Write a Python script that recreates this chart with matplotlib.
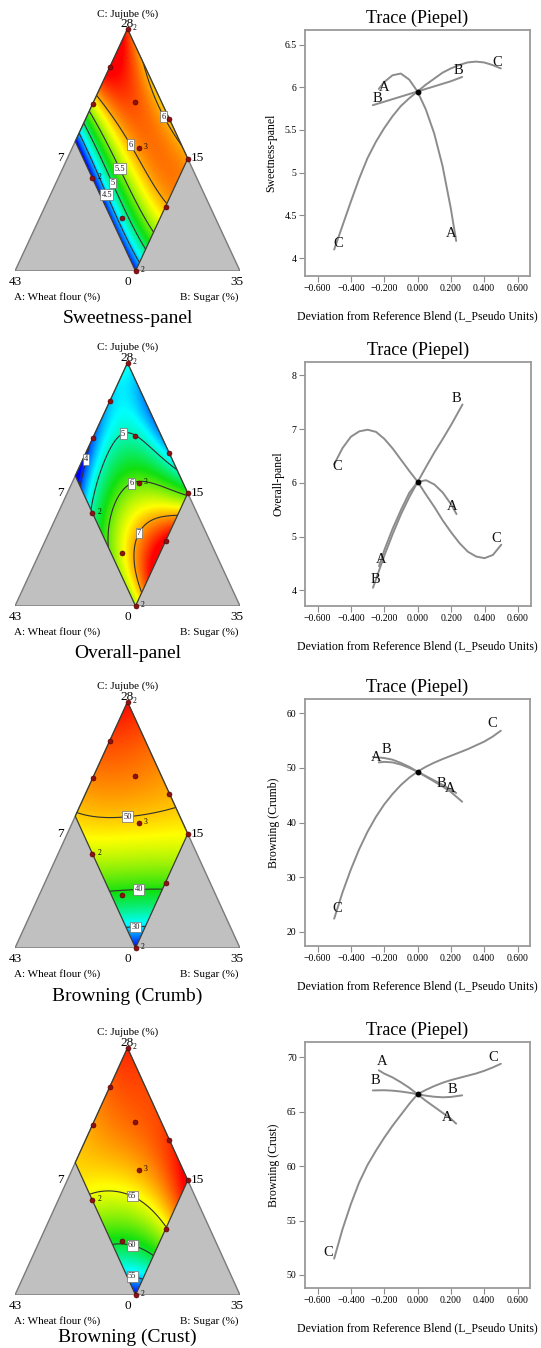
import numpy as np
import matplotlib
matplotlib.use("Agg")
import matplotlib.pyplot as plt
from matplotlib.colors import LinearSegmentedColormap
from matplotlib.patches import Polygon

plt.rcParams['font.family'] = ['Liberation Serif', 'DejaVu Serif']

# ---------------------------------------------------------------- data
# Mixture (total 50): A wheat flour 15-28, B sugar 7-22, C jujube 0-28.
# Everything below is in L-pseudo fractions (a, b, c).
A_MAX = 13 / 28
B_MAX = 15 / 28
REF = np.array([13 / 56, 15 / 56, 0.5])          # reference blend (centroid)

design_pts = [(0, 0, 1), (0.157, 0, 0.843), (0.31, 0, 0.69), (0.117, 0.183, 0.70),
              (0, 0.372, 0.628), (0.197, 0.296, 0.507), (0, 0.536, 0.464),
              (0.464, 0.152, 0.384), (0.198, 0.536, 0.266), (0.417, 0.366, 0.217),
              (0.464, 0.536, 0)]
design_reps = {0: '2', 5: '3', 7: '2', 10: '2'}

titles = ['Sweetness-panel', 'Overall-panel', 'Browning (Crumb)', 'Browning (Crust)']

DEV_A = [-0.232, -0.2, -0.15, -0.1, -0.05, 0, 0.05, 0.1, 0.15, 0.2, 0.232]
DEV_B = [-0.268, -0.2, -0.15, -0.1, -0.05, 0, 0.05, 0.1, 0.15, 0.2, 0.268]
DEV_C = [-0.5, -0.45, -0.4, -0.35, -0.3, -0.25, -0.2, -0.15, -0.1, -0.05, 0,
         0.05, 0.1, 0.15, 0.2, 0.25, 0.3, 0.35, 0.4, 0.45, 0.5]

# Sweetness-panel
sweet_A = [5.98, 6.06, 6.14, 6.16, 6.09, 5.95, 5.74, 5.46, 5.08, 4.58, 4.20]
sweet_B = [5.79, 5.83, 5.86, 5.89, 5.92, 5.95, 5.98, 6.01, 6.04, 6.07, 6.12]
sweet_C = [4.10, 4.38, 4.66, 4.93, 5.17, 5.36, 5.52, 5.66, 5.78, 5.87, 5.95,
           6.03, 6.10, 6.17, 6.22, 6.26, 6.29, 6.30, 6.29, 6.26, 6.22]
sweet_contour_pts = [(0.424, 0, 0.576, 4.5), (0.426, 0.256, 0.318, 4.5), (0.425, 0.537, 0.038, 4.5),
                     (0.38, 0, 0.62, 5), (0.3715, 0.2595, 0.369, 5), (0.375, 0.531, 0.094, 5),
                     (0.335, 0, 0.665, 5.5), (0.307, 0.264, 0.4285, 5.5), (0.315, 0.529, 0.156, 5.5),
                     (0.293, 0, 0.707, 6), (0.209, 0.261, 0.53, 6), (0.18, 0.536, 0.284, 6),
                     (0.002, 0.202, 0.796, 6), (0.016, 0.277, 0.707, 6), (0.019, 0.343, 0.638, 6),
                     (0.018, 0.53, 0.452, 6)]
sweet_levels = [4.5, 5, 5.5, 6]

# Overall-panel
overall_A = [4.45, 4.75, 5.15, 5.50, 5.82, 6.02, 6.05, 5.97, 5.82, 5.60, 5.42]
overall_B = [4.05, 4.65, 5.05, 5.42, 5.74, 6.02, 6.30, 6.57, 6.82, 7.08, 7.46]
overall_C = [6.35, 6.65, 6.86, 6.96, 6.99, 6.95, 6.82, 6.64, 6.43, 6.22, 6.02,
             5.78, 5.55, 5.30, 5.08, 4.88, 4.72, 4.63, 4.60, 4.66, 4.85]
overall_contour_pts = [(0.387, 0.009, 0.604, 4),
                       (0.465, 0.147, 0.388, 5), (0.349, 0.105, 0.546, 5), (0.243, 0.087, 0.67, 5),
                       (0.1645, 0.1225, 0.713, 5), (0.117, 0.183, 0.70, 5), (0.058, 0.2585, 0.6835, 5),
                       (0.019, 0.367, 0.614, 5), (0.0045, 0.4565, 0.539, 5),
                       (0.23, 0.2515, 0.5185, 6), (0.11, 0.399, 0.491, 6), (0.3095, 0.2135, 0.477, 6),
                       (0.3805, 0.2245, 0.395, 6), (0.463, 0.293, 0.244, 6), (0.0, 0.536, 0.464, 6),
                       (0.4, 0.527, 0.073, 7), (0.3675, 0.4435, 0.189, 7), (0.305, 0.392, 0.303, 7),
                       (0.253, 0.393, 0.354, 7), (0.172, 0.4605, 0.3675, 7), (0.0975, 0.535, 0.3675, 7)]
overall_levels = [4, 5, 6, 7]

# Browning (Crumb)
crumb_A = [51.0, 51.1, 51.0, 50.6, 50.0, 49.3, 48.5, 47.7, 46.9, 46.0, 45.4]
crumb_B = [52.0, 51.8, 51.5, 50.9, 50.2, 49.3, 48.4, 47.5, 46.6, 45.6, 43.8]
crumb_C = [22.4, 27.2, 31.4, 35.1, 38.3, 41.0, 43.3, 45.2, 46.85, 48.2, 49.3,
           50.2, 50.95, 51.6, 52.2, 52.8, 53.4, 54.1, 54.8, 55.7, 56.8]
crumb_contour_pts = [(0.449, 0, 0.551, 50), (0.355, 0.11, 0.535, 50), (0.24, 0.232, 0.528, 50),
                     (0.107, 0.337, 0.556, 50), (0.005, 0.412, 0.583, 50),
                     (0.467, 0.296, 0.237, 40), (0.32, 0.416, 0.264, 40), (0.219, 0.537, 0.244, 40),
                     (0.466, 0.453, 0.081, 30), (0.415, 0.481, 0.104, 30), (0.38, 0.5355, 0.085, 30)]
crumb_levels = [30, 40, 50]

# Browning (Crust)
crust_A = [68.8, 68.5, 68.15, 67.7, 67.2, 66.6, 66.0, 65.45, 64.9, 64.35, 63.9]
crust_B = [66.95, 66.97, 66.93, 66.85, 66.74, 66.6, 66.47, 66.37, 66.32, 66.35, 66.5]
crust_C = [51.5, 54.2, 56.5, 58.5, 60.1, 61.4, 62.6, 63.7, 64.7, 65.7, 66.6,
           67.0, 67.35, 67.65, 67.9, 68.1, 68.3, 68.5, 68.75, 69.05, 69.4]
crust_contour_pts = [(0.46, 0.126, 0.414, 65), (0.398, 0.184, 0.418, 65), (0.275, 0.321, 0.404, 65),
                     (0.2215, 0.4215, 0.357, 65), (0.19, 0.53, 0.28, 65),
                     (0.462, 0.336, 0.202, 60), (0.37, 0.417, 0.213, 60), (0.315, 0.53, 0.155, 60),
                     (0.459, 0.467, 0.074, 55), (0.431, 0.477, 0.092, 55), (0.40, 0.526, 0.074, 55)]
crust_levels = [55, 60, 65]

# contour-label places (b, c)
sweet_clabels = [(0.256, 0.318), (0.2595, 0.369), (0.264, 0.4285), (0.261, 0.53), (0.343, 0.6376)]
overall_clabels = [(0.009, 0.604), (0.1225, 0.713), (0.2515, 0.5185), (0.392, 0.303)]
crumb_clabels = [(0.232, 0.537), (0.416, 0.267), (0.481, 0.106)]
crust_clabels = [(0.321, 0.404), (0.417, 0.213), (0.477, 0.092)]

# trace letters (text, deviation, response)
sweet_tlabels = [('A', -0.202, 6.00), ('B', -0.242, 5.87), ('B', 0.244, 6.20),
                 ('C', 0.48, 6.29), ('A', 0.204, 4.29), ('C', -0.476, 4.175)]
overall_tlabels = [('B', 0.234, 7.58), ('C', -0.48, 6.31), ('A', 0.204, 5.565),
                   ('C', 0.47, 4.975), ('A', -0.216, 4.57), ('B', -0.256, 4.20)]
crumb_tlabels = [('A', -0.246, 51.94), ('B', -0.186, 53.28), ('C', 0.448, 58.17),
                 ('B', 0.144, 47.18), ('A', 0.198, 46.26), ('C', -0.48, 24.27)]
crust_tlabels = [('A', -0.21, 69.6), ('B', -0.25, 67.83), ('C', 0.454, 69.97),
                 ('B', 0.21, 67.06), ('A', 0.18, 64.49), ('C', -0.536, 52.05)]

trace_ylabels = ['Sweetness-panel', 'Overall-panel', 'Browning (Crumb)', 'Browning (Crust)']
trace_yticks = [[4, 4.5, 5, 5.5, 6, 6.5], [4, 5, 6, 7, 8], [20, 30, 40, 50, 60], [50, 55, 60, 65, 70]]
trace_ylims = [(3.79, 6.67), (3.71, 8.25), (17.4, 62.6), (48.8, 71.4)]
x_ticks = [-0.6, -0.4, -0.2, 0.0, 0.2, 0.4, 0.6]

# ---------------------------------------------------------------- layout
W, H = 541, 1348
fig = plt.figure(figsize=(W / 100, H / 100), dpi=100)
TERN_BOX = [(15, 29, 240, 271), (15, 363, 240, 606), (15, 702, 240, 948), (15, 1048, 240, 1295)]
TRACE_BOX = [(305, 30, 530, 276), (305, 362, 530.5, 606), (305, 699, 530, 946), (305, 1042, 530, 1288)]
TITLE_V = [-0.195, -0.195, -0.195, -0.17]


def add_ax(box):
    x0, y0, x1, y1 = box
    return fig.add_axes([x0 / W, 1 - y1 / H, (x1 - x0) / W, (y1 - y0) / H])


cmap = LinearSegmentedColormap.from_list(
    'de', [(0, '#0000ff'), (0.25, '#00ffff'), (0.5, '#10e010'), (0.75, '#ffff00'), (1, '#ff0000')])


def piepel(i, d):
    d = np.asarray(d, float)[:, None]
    x = REF[None, :] * (1 - d / (1 - REF[i]))
    x[:, i] = REF[i] + d[:, 0]
    return x


def terms(a, b, c):
    return np.stack([a, b, c, a * b, a * c, b * c, a * b * c,
                     a * b * (a - b), a * c * (a - c), b * c * (b - c)], axis=-1)


def fit(contour_pts, traces):
    """Scheffe cubic mixture model fitted to the read contour points and trace curves."""
    P = [np.array(contour_pts)[:, :3]]
    y = [np.array(contour_pts)[:, 3]]
    for i, (dev, val) in enumerate(traces):
        P.append(piepel(i, dev))
        y.append(np.asarray(val, float))
    P = np.vstack(P)
    y = np.concatenate(y)
    X = terms(P[:, 0], P[:, 1], P[:, 2])
    coef = np.linalg.solve(X.T @ X + 1e-5 * np.eye(X.shape[1]), X.T @ y)
    return coef


def to_uv(b, c):
    return b + np.asarray(c) / 2, c


def ternary(ax, coef, levels, clabels, title, title_v, data_lim):
    ax.set_xlim(0, 1)
    ax.set_ylim(0, 1)
    ax.axis('off')
    ax.add_patch(Polygon([(0, 0), (1, 0), (0.5, 1)], closed=True, fc='#c0c0c0',
                         ec='#7a7a7a', lw=1.0, zorder=1))
    dia = [(0.5, 1), ((1 - A_MAX) / 2, 1 - A_MAX), (B_MAX, 0), (B_MAX + (1 - B_MAX) / 2, 1 - B_MAX)]
    clip = Polygon(dia, closed=True, fc='none', ec='#3c3c30', lw=0.9, zorder=4)
    ax.add_patch(clip)
    n = 400
    U, V = np.meshgrid(np.linspace(0, 1, n), np.linspace(0, 1, n))
    C = V
    B = U - V / 2
    A = 1 - B - C
    Z = terms(A, B, C) @ coef
    inside = (A >= -1e-9) & (B >= -1e-9) & (A <= A_MAX + 1e-9) & (B <= B_MAX + 1e-9)
    vmin = 0.5 * (Z[inside].min() + data_lim[0])
    vmax = 0.5 * (Z[inside].max() + data_lim[1])
    im = ax.imshow(Z, extent=(0, 1, 0, 1), origin='lower', cmap=cmap, vmin=vmin, vmax=vmax,
                   aspect='auto', interpolation='bilinear', zorder=2)
    im.set_clip_path(clip)
    cs = ax.contour(U, V, Z, levels=levels, colors='#303030', linewidths=0.8, zorder=3)
    cs.set_clip_path(clip)
    man = [to_uv(b, c) for b, c in clabels]
    txts = ax.clabel(cs, levels=levels, manual=man, inline=False, fmt=lambda v: f'{v:g}',
                     fontsize=6, colors='#202020')
    for t in txts:
        t.set_rotation(0)
        t.set_zorder(5)
        t.set_bbox(dict(boxstyle='square,pad=0.15', fc='white', ec='#707070', lw=0.5))
    # design points
    pts = np.array(design_pts)
    u, v = to_uv(pts[:, 1], pts[:, 2])
    ax.scatter(u, v, s=13, c='#8b1212', edgecolors='#500000', linewidths=0.4, zorder=6, clip_on=False)
    for k, lab in design_reps.items():
        ax.text(u[k] + 0.022, v[k] + 0.004, lab, fontsize=5.5, va='center', ha='left', zorder=7)
    # axis texts
    ax.text(0.5, 1.063, 'C: Jujube (%)', ha='center', va='center', fontsize=8)
    ax.text(0.5, 1.022, '28', ha='center', va='center', fontsize=9.5)
    ax.text(0.2, 0.465, '7', ha='center', va='center', fontsize=9.5)
    ax.text(0.81, 0.465, '15', ha='center', va='center', fontsize=9.5)
    ax.text(0.0, -0.045, '43', ha='center', va='center', fontsize=9.5)
    ax.text(0.5, -0.045, '0', ha='center', va='center', fontsize=9.5)
    ax.text(0.985, -0.045, '35', ha='center', va='center', fontsize=9.5)
    ax.text(0.187, -0.107, 'A: Wheat flour (%)', ha='center', va='center', fontsize=8)
    ax.text(0.865, -0.107, 'B: Sugar (%)', ha='center', va='center', fontsize=8)
    ax.text(0.5, title_v, title, ha='center', va='center', fontsize=14)


def trace(ax, curves, tlabels, ylabel, ylim, yticks):
    for dev, val in curves:
        ax.plot(dev, val, color='#8c8c8c', lw=1.4, solid_capstyle='round')
    center = curves[0][1][list(curves[0][0]).index(0)]
    ax.plot([0], [center], 'o', color='black', ms=3.2, zorder=5)
    for t, x, y in tlabels:
        ax.text(x, y, t, ha='center', va='center', fontsize=10.5, color='#111111')
    ax.set_xlim(-0.675, 0.675)
    ax.set_ylim(*ylim)
    ax.set_xticks(x_ticks)
    ax.set_xticklabels([f'{t:.3f}'.replace('-', '\u2212') for t in x_ticks])
    ax.set_yticks(yticks)
    ax.set_yticklabels([f'{t:g}' for t in yticks])
    ax.tick_params(direction='out', length=4, width=0.8, color='#8c8c8c', labelsize=7, pad=2)
    for s in ax.spines.values():
        s.set_color('#9a9a9a')
        s.set_linewidth(1.3)
    ax.set_title('Trace (Piepel)', fontsize=13, pad=5)
    ax.set_xlabel('Deviation from Reference Blend (L_Pseudo Units)', fontsize=8.5, labelpad=12)
    ax.set_ylabel(ylabel, fontsize=8.5, labelpad=5)


responses = [
    (sweet_A, sweet_B, sweet_C, sweet_contour_pts, sweet_levels, sweet_clabels, sweet_tlabels),
    (overall_A, overall_B, overall_C, overall_contour_pts, overall_levels, overall_clabels, overall_tlabels),
    (crumb_A, crumb_B, crumb_C, crumb_contour_pts, crumb_levels, crumb_clabels, crumb_tlabels),
    (crust_A, crust_B, crust_C, crust_contour_pts, crust_levels, crust_clabels, crust_tlabels),
]

for k, (rA, rB, rC, cpts, levels, clabs, tlabs) in enumerate(responses):
    curves = [(DEV_A, rA), (DEV_B, rB), (DEV_C, rC)]
    coef = fit(cpts, curves)
    allv = np.concatenate([rA, rB, rC])
    axT = add_ax(TERN_BOX[k])
    ternary(axT, coef, levels, clabs, titles[k], TITLE_V[k], (allv.min(), allv.max()))
    axR = add_ax(TRACE_BOX[k])
    trace(axR, curves, tlabs, trace_ylabels[k], trace_ylims[k], trace_yticks[k])

fig.savefig('out.png', dpi=100)
